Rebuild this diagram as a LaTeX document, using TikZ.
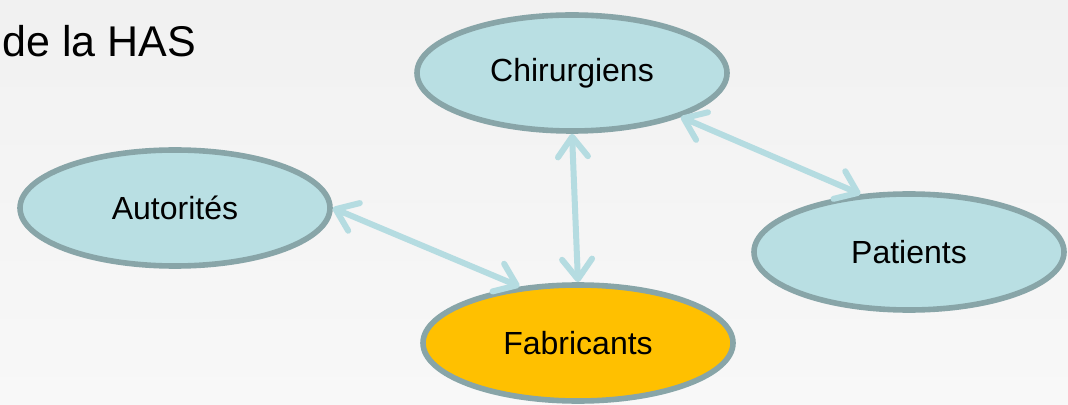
\documentclass[tikz,border=0pt]{standalone}
\usepackage{fontspec}
\setmainfont{Liberation Sans}
\usetikzlibrary{shapes.geometric,arrows.meta}
\definecolor{bgtop}{HTML}{F1F1F1}
\definecolor{bgbot}{HTML}{F8F8F8}
\definecolor{nodefill}{HTML}{B9DFE3}
\definecolor{nodeborder}{HTML}{88A5A8}
\definecolor{fabfill}{HTML}{FFC000}
\definecolor{linkcol}{HTML}{B5DCE1}
\begin{document}
\begin{tikzpicture}[x=0.5pt,y=-0.5pt,
  actor/.style={ellipse, draw=nodeborder, fill=nodefill, line width=2.8pt,
    minimum width=155pt, minimum height=58pt, inner sep=0pt,
    font=\fontsize{16}{19}\selectfont},
  link/.style={draw=linkcol, line width=3pt, line cap=round,
    {Straight Barb[length=10pt,width=15pt,round]}-{Straight Barb[length=10pt,width=15pt,round]}}]
\useasboundingbox (0,0) rectangle (1068,405);
\clip (0,0) rectangle (1068,405);
\shade[top color=bgtop, bottom color=bgbot] (0,0) rectangle (1068,405);
\node[anchor=base west, inner sep=0pt, font=\fontsize{21.5}{26}\selectfont] (has) at (2,57) {de la HAS};
\node[actor] (chir) at (572,73) {Chirurgiens};
\node[actor] (aut) at (175,208) {Autorités};
\node[actor] (pat) at (909,252) {Patients};
\node[actor, fill=fabfill] (fab) at (578,343) {Fabricants};
\draw[link] (aut.east) -- (fab.136);
\draw[link] (chir.south) -- (fab.north);
\draw[link] (chir.-22) -- (pat.130);
\end{tikzpicture}
\end{document}
